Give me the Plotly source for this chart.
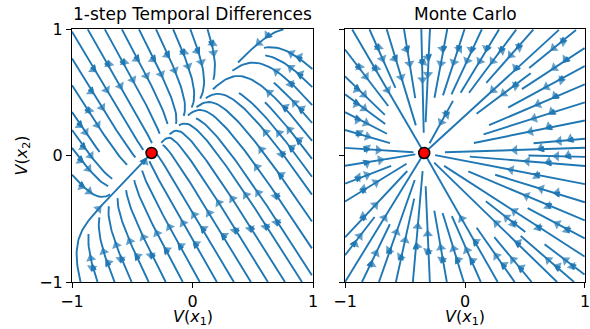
import numpy as np
import plotly.graph_objects as go
import plotly.figure_factory as ff

# ---------------- data ----------------
V_STAR = [-0.34, 0.02]                    # fixed point V^pi = (V(x1), V(x2))
P_TRANS = [[0.62, 0.38], [0.62, 0.38]]    # 2-state transition matrix
GAMMA = 0.9                               # discount
D_WEIGHTS = [0.5, 0.5]                    # state visitation weights
TICKS = [-1, 0, 1]
TICK_TEXT = ["\u22121", "0", "1"]
TITLES = ["1-step Temporal Differences", "Monte Carlo"]
X_LABEL = "<i>V</i>(<i>x</i><sub>1</sub>)"
Y_LABEL = "<i>V</i>(<i>x</i><sub>2</sub>)"
AXIS_RANGE = [-1, 1]

LINE_COLOR = "#1f77b4"
FONT = "DejaVu Sans"

# ---------------- vector fields ----------------
grid = np.linspace(AXIS_RANGE[0], AXIS_RANGE[1], 41)
GX, GY = np.meshgrid(grid, grid)
vs = np.array(V_STAR)
D = np.diag(D_WEIGHTS)
P = np.array(P_TRANS)
A_td = D @ (GAMMA * P - np.eye(2))
A_mc = -D

def field(A):
    dx = GX - vs[0]
    dy = GY - vs[1]
    u = A[0, 0] * dx + A[0, 1] * dy
    v = A[1, 0] * dx + A[1, 1] * dy
    return u, v

def stream_traces(A, xa, ya):
    u, v = field(A)
    sf = ff.create_streamline(grid, grid, u, v, density=1, arrow_scale=0.05)
    lx = np.array(sf.data[0].x, dtype=float)
    ly = np.array(sf.data[0].y, dtype=float)
    br = np.where(np.isnan(lx))[0]
    starts = np.concatenate([[0], br + 1])
    ends = np.concatenate([br, [len(lx)]])
    ax_, ay_, sz = [], [], []
    for s, e in zip(starts, ends):
        tx, ty = lx[s:e], ly[s:e]
        if len(tx) < 3:
            continue
        seg = np.hypot(np.diff(tx), np.diff(ty))
        cs = np.cumsum(seg)
        n = int(np.searchsorted(cs, cs[-1] / 2.0))
        n = min(max(n, 0), len(tx) - 2)
        ax_ += [tx[n], (tx[n] + tx[n + 1]) / 2]
        ay_ += [ty[n], (ty[n] + ty[n + 1]) / 2]
        sz += [0, 9]
    lines = go.Scatter(x=lx, y=ly, mode="lines", line=dict(color=LINE_COLOR, width=1.9),
                       xaxis=xa, yaxis=ya, hoverinfo="skip", showlegend=False)
    arrows = go.Scatter(x=ax_, y=ay_, mode="markers",
                        marker=dict(symbol="triangle-up", size=sz, color=LINE_COLOR,
                                    angleref="previous", line=dict(width=0)),
                        xaxis=xa, yaxis=ya, hoverinfo="skip", showlegend=False)
    return [lines, arrows]

fig = go.Figure()
for A, xa, ya in [(A_td, "x", "y"), (A_mc, "x2", "y2")]:
    for t in stream_traces(A, xa, ya):
        fig.add_trace(t)
    fig.add_trace(go.Scatter(x=[V_STAR[0]], y=[V_STAR[1]], mode="markers",
                             marker=dict(color="red", size=11, line=dict(color="black", width=1.5)),
                             xaxis=xa, yaxis=ya, hoverinfo="skip", showlegend=False))

axis_common = dict(range=AXIS_RANGE, tickvals=TICKS, ticktext=TICK_TEXT,
                   showgrid=False, zeroline=False, showline=True, mirror=True,
                   linecolor="black", linewidth=1, ticks="outside", ticklen=5,
                   tickcolor="black", automargin=False, ticklabeloverflow="allow",
                   tickfont=dict(family=FONT, size=16, color="black"))
tfont = dict(family=FONT, size=16, color="black")
dom_l = [0, 0.4698]
dom_r = [0.5322, 1]
fig.update_layout(
    width=590, height=329,
    margin=dict(l=72, r=5, t=29, b=47),
    paper_bgcolor="white", plot_bgcolor="white",
    font=dict(family=FONT, color="black"),
    xaxis=dict(domain=dom_l, **axis_common),
    yaxis=dict(domain=[0, 1], **axis_common),
    xaxis2=dict(domain=dom_r, anchor="y2", **axis_common),
    yaxis2=dict(domain=[0, 1], anchor="x2", showticklabels=False, **axis_common),
    annotations=[
        dict(text=TITLES[0], x=sum(dom_l) / 2, y=1.0, xref="paper", yref="paper", xanchor="center",
             yanchor="bottom", yshift=3, showarrow=False, font=dict(family=FONT, size=17, color="black")),
        dict(text=TITLES[1], x=sum(dom_r) / 2, y=1.0, xref="paper", yref="paper", xanchor="center",
             yanchor="bottom", yshift=3, showarrow=False, font=dict(family=FONT, size=17, color="black")),
        dict(text=X_LABEL, x=sum(dom_l) / 2, y=0, xref="paper", yref="paper", xanchor="center",
             yanchor="middle", yshift=-35, showarrow=False, font=tfont),
        dict(text=X_LABEL, x=sum(dom_r) / 2, y=0, xref="paper", yref="paper", xanchor="center",
             yanchor="middle", yshift=-35, showarrow=False, font=tfont),
        dict(text=Y_LABEL, x=0, y=0.5, xref="paper", yref="paper", xanchor="center",
             yanchor="middle", xshift=-50, textangle=-90, showarrow=False, font=tfont),
    ],
)
fig.write_html("out.html", config={"displayModeBar": False},
               post_script="document.body.style.margin='0';document.body.style.overflow='hidden';")
